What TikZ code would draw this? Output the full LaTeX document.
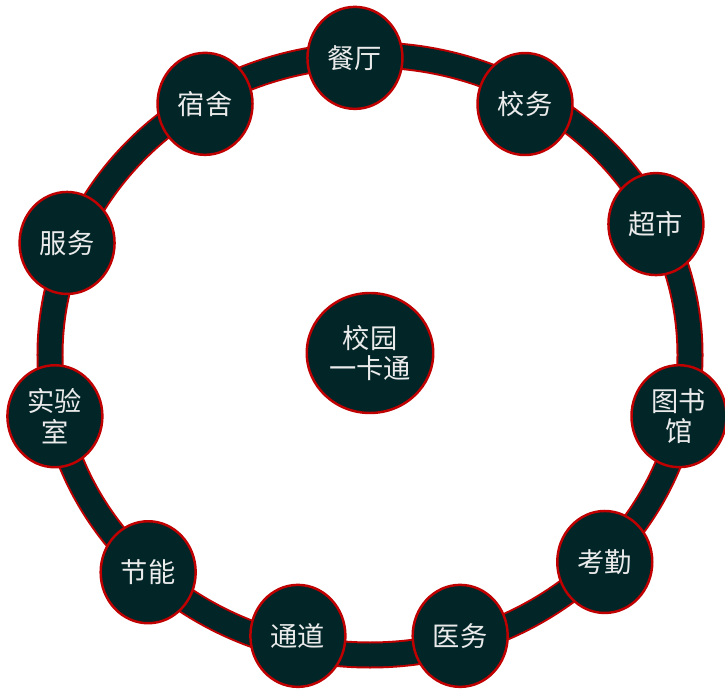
\documentclass[tikz,border=0pt]{standalone}
\usepackage{fontspec}
\setmainfont{Noto Sans CJK SC}
\usetikzlibrary{shapes.geometric}
\definecolor{ringdark}{HTML}{022628}
\definecolor{ringred}{HTML}{C00000}

\begin{document}
\begin{tikzpicture}[
    spot/.style={ellipse, draw=ringred, line width=1.4pt, fill=ringdark,
      text=white!92!black, minimum width=1.9cm, minimum height=2.04cm,
      inner sep=0pt, align=center, font=\fontsize{15.5pt}{17.5pt}\selectfont},
    hub/.style={spot, minimum width=2.53cm, minimum height=2.4cm}]
  \useasboundingbox (-7.4,-6.68) rectangle (7.1,7.1);
  \coordinate (o) at (0,0);
  % ring behind the nodes
  \draw[ringred, line width=0.54cm] (o) ellipse [x radius=6.4cm, y radius=6cm];
  \draw[ringdark, line width=0.46cm] (o) ellipse [x radius=6.4cm, y radius=6cm];
  \draw
    (0,0.04) node[hub] (card){校园\\一卡通}
    (92.9:5.95) node[spot] (canting){餐厅}
    (58.3:5.90) node[spot] (xiaowu){校务}
    (24.6:6.29) node[spot] (chaoshi){超市}
    (-11.2:6.30) node[spot] (tushuguan){图书\\馆}
    (-41.4:6.26) node[spot] (kaoqin){考勤}
    (-72.2:5.90) node[spot] (yiwu){医务}
    (-104.4:5.80) node[spot] (tongdao){通道}
    (-135.6:6.21) node[spot] (jieneng){节能}
    (191.0:6.42) node[spot] (shiyanshi){实验\\室}
    (159.7:6.46) node[spot] (fuwu){服务}
    (123.3:6.01) node[spot] (sushe){宿舍};
\end{tikzpicture}
\end{document}
